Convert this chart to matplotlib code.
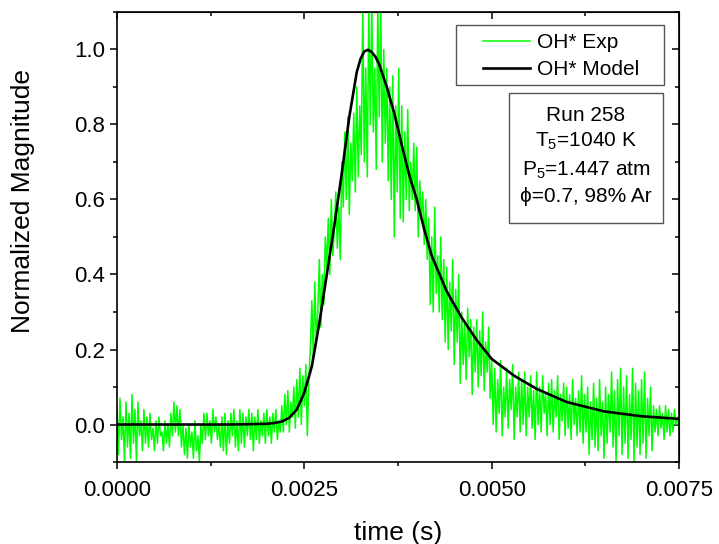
import numpy as np
import matplotlib
matplotlib.use("Agg")
import matplotlib.pyplot as plt
from matplotlib.patches import Rectangle
from matplotlib.ticker import MultipleLocator, FormatStrFormatter

plt.rcParams["font.family"] = ["Liberation Sans", "DejaVu Sans"]
plt.rcParams["mathtext.fontset"] = "custom"
plt.rcParams["mathtext.rm"] = "Liberation Sans"
plt.rcParams["mathtext.it"] = "Liberation Sans"

# OH* emission trace (one value per 20 us, 0 .. 7.5 ms)
exp_signal = [
    0.05, -0.08, 0.07, -0.04, 0.02, -0.10, 0.06, -0.06, 0.03, -0.09,
    0.08, -0.05, 0.04, -0.10, 0.06, -0.03, 0.01, -0.07, 0.04, -0.05,
    0.02, -0.06, 0.03, -0.04, -0.01, -0.07, 0.01, -0.05, 0.02, -0.03,
    -0.02, -0.07, 0.01, -0.05, 0.00, -0.06, 0.03, -0.03, 0.06, -0.02,
    0.05, -0.03, 0.04, -0.06, 0.00, -0.08, -0.01, -0.09, 0.00, -0.06,
    -0.02, -0.09, 0.01, -0.07, -0.03, -0.10, 0.00, -0.05, 0.03, -0.04,
    0.03, -0.03, 0.01, -0.05, 0.04, -0.02, 0.02, -0.04, 0.00, -0.06,
    0.02, -0.07, 0.03, -0.08, 0.01, -0.05, 0.03, -0.03, 0.04, -0.06,
    0.01, -0.07, 0.04, -0.05, 0.03, -0.06, 0.02, -0.03, 0.04, -0.04,
    0.03, -0.07, 0.02, -0.04, 0.04, -0.05, 0.01, -0.03, 0.03, -0.05,
    0.04, -0.03, 0.02, -0.05, 0.03, -0.02, 0.04, -0.04, 0.01, -0.02,
    0.05, -0.02, 0.08, 0.00, 0.09, -0.02, 0.06, 0.02, 0.10, -0.01,
    0.12, 0.02, 0.15, 0.00, 0.13, 0.05, 0.16, -0.03, 0.12, 0.20,
    0.33, 0.18, 0.38, 0.22, 0.30, 0.44, 0.26, 0.40, 0.32, 0.50,
    0.42, 0.55, 0.40, 0.60, 0.45, 0.52, 0.62, 0.47, 0.58, 0.44,
    0.70, 0.58, 0.78, 0.60, 0.82, 0.56, 0.75, 0.65, 0.83, 0.62,
    0.90, 0.66, 0.85, 0.72, 1.12, 0.70, 0.95, 0.66, 1.12, 0.80,
    1.12, 0.78, 0.95, 0.68, 1.12, 0.82, 1.12, 0.70, 1.00, 0.75,
    0.95, 0.65, 0.90, 0.60, 0.93, 0.50, 0.85, 0.62, 0.95, 0.55,
    0.85, 0.54, 0.78, 0.60, 0.84, 0.57, 0.70, 0.60, 0.75, 0.57,
    0.74, 0.50, 0.65, 0.55, 0.62, 0.48, 0.60, 0.44, 0.55, 0.32,
    0.50, 0.30, 0.58, 0.35, 0.45, 0.30, 0.50, 0.28, 0.44, 0.22,
    0.42, 0.20, 0.38, 0.25, 0.44, 0.16, 0.36, 0.22, 0.40, 0.11,
    0.30, 0.16, 0.27, 0.12, 0.31, 0.18, 0.28, 0.08, 0.26, 0.14,
    0.28, 0.10, 0.25, 0.13, 0.30, 0.09, 0.22, 0.14, 0.26, 0.07,
    0.17, 0.00, 0.15, -0.02, 0.12, 0.03, 0.17, -0.03, 0.10, 0.02,
    0.15, -0.01, 0.12, 0.04, 0.16, -0.04, 0.10, 0.02, 0.14, -0.02,
    0.12, 0.00, 0.14, -0.03, 0.10, 0.02, 0.13, -0.01, 0.09, -0.04,
    0.14, 0.00, 0.10, -0.02, 0.13, 0.03, 0.08, -0.03, 0.11, 0.00,
    0.12, -0.02, 0.09, 0.02, 0.13, -0.04, 0.08, 0.01, 0.11, -0.03,
    0.10, -0.01, 0.08, -0.04, 0.12, 0.00, 0.07, -0.03, 0.09, -0.02,
    0.13, -0.05, 0.08, -0.02, 0.10, -0.08, 0.06, -0.04, 0.11, -0.06,
    0.07, -0.07, 0.12, -0.03, 0.06, -0.09, 0.10, -0.05, 0.08, -0.02,
    0.14, -0.06, 0.09, -0.10, 0.12, -0.03, 0.15, -0.08, 0.10, -0.05,
    0.13, -0.09, 0.08, -0.04, 0.15, -0.10, 0.11, -0.06, 0.09, -0.08,
    0.12, -0.05, 0.14, -0.09, 0.07, -0.03, 0.10, -0.07, 0.05, -0.02,
    0.04, -0.03, 0.05, -0.01, 0.03, -0.04, 0.05, -0.02, 0.04, -0.03,
    0.03, -0.02, 0.04, 0.00, 0.02, -0.01,
]
exp_time = np.linspace(0, 0.0075, len(exp_signal))

model_time = [0.0, 0.0005, 0.001, 0.0015, 0.0018, 0.002, 0.0021, 0.0022, 0.0023,
              0.0024, 0.0025, 0.0026, 0.0027, 0.0028, 0.0029, 0.003, 0.0031,
              0.0032, 0.00325, 0.0033, 0.00335, 0.0034, 0.00345, 0.0035, 0.0036,
              0.0037, 0.0038, 0.0039, 0.004, 0.0041, 0.0042, 0.0044, 0.0046,
              0.0048, 0.005, 0.0053, 0.0056, 0.006, 0.0065, 0.007, 0.0075]
model_signal = [0.0, 0.0, 0.0, 0.0, 0.001, 0.002, 0.004, 0.008, 0.018,
                0.04, 0.085, 0.155, 0.27, 0.40, 0.53, 0.67, 0.82,
                0.94, 0.975, 0.995, 0.999, 0.993, 0.98, 0.96, 0.90,
                0.83, 0.745, 0.665, 0.60, 0.52, 0.45, 0.355, 0.285,
                0.225, 0.175, 0.13, 0.095, 0.06, 0.035, 0.022, 0.015]

info_lines = ["Run 258", "T$_5$=1040 K", "P$_5$=1.447 atm", "\u03d5=0.7, 98% Ar"]

fig = plt.figure(figsize=(7.19, 5.44), dpi=100)
ax = fig.add_axes([0.1627, 0.1507, 0.7817, 0.8273])

ax.plot(exp_time, exp_signal, color="#00ff00", lw=1.1, label="OH* Exp")
ax.plot(model_time, model_signal, color="black", lw=1.9, label="OH* Model")

ax.set_xlim(0, 0.0075)
ax.set_ylim(-0.1, 1.1)
ax.xaxis.set_major_locator(MultipleLocator(0.0025))
ax.xaxis.set_minor_locator(MultipleLocator(0.00125))
ax.yaxis.set_major_locator(MultipleLocator(0.2))
ax.yaxis.set_minor_locator(MultipleLocator(0.1))
ax.xaxis.set_major_formatter(FormatStrFormatter("%.4f"))
ax.yaxis.set_major_formatter(FormatStrFormatter("%.1f"))
ax.tick_params(which="both", direction="out", width=1.1, labelsize=16)
ax.tick_params(which="major", length=5)
ax.tick_params(which="minor", length=3)
ax.tick_params(axis="x", which="major", pad=8)
for s in ax.spines.values():
    s.set_linewidth(1.2)

# mirrored axes, ticks pointing the other way
top = ax.secondary_xaxis("top")
top.xaxis.set_major_locator(MultipleLocator(0.0025))
top.xaxis.set_minor_locator(MultipleLocator(0.00125))
top.tick_params(which="both", direction="in", width=1.1, labeltop=False)
top.tick_params(which="major", length=5)
top.tick_params(which="minor", length=3)
right = ax.secondary_yaxis("right")
right.yaxis.set_major_locator(MultipleLocator(0.2))
right.yaxis.set_minor_locator(MultipleLocator(0.1))
right.tick_params(which="both", direction="in", width=1.1, labelright=False)
right.tick_params(which="major", length=5)
right.tick_params(which="minor", length=3)

ax.set_xlabel("time (s)", fontsize=19, labelpad=14)
ax.set_ylabel("Normalized Magnitude", fontsize=19)
ax.yaxis.set_label_coords(-0.145, 0.58)

# legend box drawn separately so the padding can be wide like the original
ax.add_patch(Rectangle((0.603, 0.838), 0.370, 0.1333, transform=ax.transAxes,
                       facecolor="white", edgecolor="#555555", lw=1.0, zorder=5))
leg = ax.legend(loc="upper left", bbox_to_anchor=(0.651, 0.953), fontsize=15,
                frameon=False, handlelength=2.26, borderaxespad=0, borderpad=0,
                labelspacing=0.4, handletextpad=0.33)
leg.set_zorder(6)

ax.add_patch(Rectangle((0.6975, 0.532), 0.274, 0.289, transform=ax.transAxes,
                       facecolor="white", edgecolor="#555555", lw=1.0, zorder=5))
for line, yy in zip(info_lines, [0.771, 0.712, 0.649, 0.590]):
    ax.text(0.8345, yy, line, transform=ax.transAxes, ha="center", va="center",
            fontsize=15, zorder=6)

fig.savefig("out.png", dpi=100)
